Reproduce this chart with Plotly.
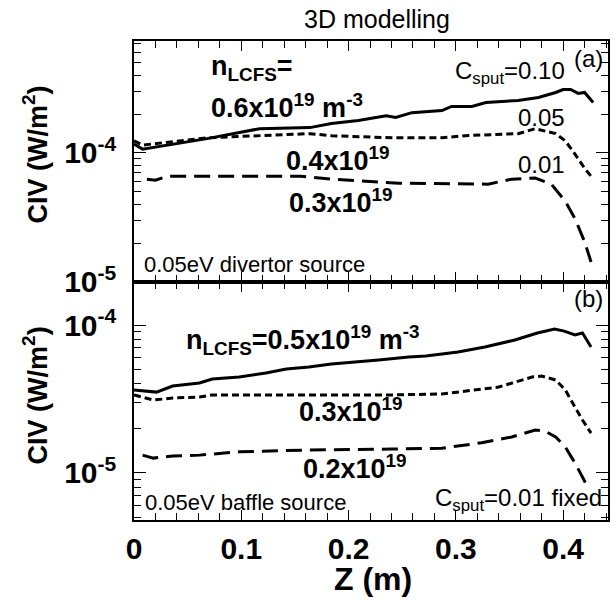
import plotly.graph_objects as go

# ---------------- data ----------------
# (a) 0.05eV divertor source
za_010 = [0.000, 0.008, 0.068, 0.117, 0.164, 0.184, 0.209, 0.235, 0.244, 0.259, 0.287, 0.296,
          0.315, 0.328, 0.358, 0.377, 0.393, 0.400, 0.407, 0.414, 0.420, 0.428]
civ_a_010 = [1.17e-4, 1.07e-4, 1.29e-4, 1.54e-4, 1.57e-4, 1.69e-4, 1.78e-4, 1.94e-4, 1.88e-4, 2.05e-4,
             2.13e-4, 2.29e-4, 2.29e-4, 2.46e-4, 2.55e-4, 2.69e-4, 2.94e-4, 3.10e-4, 3.10e-4, 2.89e-4,
             2.94e-4, 2.46e-4]

za_005 = [0.000, 0.008, 0.068, 0.164, 0.184, 0.240, 0.287, 0.309, 0.358, 0.374, 0.393, 0.402,
          0.411, 0.420, 0.428]
civ_a_005 = [1.24e-4, 1.15e-4, 1.31e-4, 1.41e-4, 1.36e-4, 1.31e-4, 1.31e-4, 1.36e-4, 1.41e-4, 1.54e-4,
             1.41e-4, 1.24e-4, 0.98e-4, 7.6e-5, 6.3e-5]

za_001 = [0.012, 0.020, 0.031, 0.155, 0.184, 0.247, 0.330, 0.352, 0.374, 0.389, 0.402, 0.411,
          0.420, 0.426]
civ_a_001 = [6.26e-5, 6.15e-5, 6.6e-5, 6.6e-5, 6.26e-5, 5.83e-5, 5.73e-5, 6.26e-5, 6.38e-5, 5.73e-5,
             4.22e-5, 3.1e-5, 2.05e-5, 1.43e-5]

# (b) 0.05eV baffle source, C_sput = 0.01 fixed
zb_05 = [0.000, 0.021, 0.036, 0.061, 0.073, 0.098, 0.123, 0.142, 0.163, 0.184, 0.228, 0.256, 0.272,
         0.302, 0.327, 0.355, 0.376, 0.392, 0.401, 0.411, 0.418, 0.426]
civ_b_05 = [3.64e-5, 3.52e-5, 3.87e-5, 4.06e-5, 4.32e-5, 4.45e-5, 4.74e-5, 5.04e-5, 5.2e-5, 5.45e-5,
            5.8e-5, 6.08e-5, 6.17e-5, 6.57e-5, 7.1e-5, 7.92e-5, 8.83e-5, 9.4e-5, 9.1e-5, 8.56e-5,
            8.83e-5, 7.1e-5]

zb_03 = [0.000, 0.018, 0.036, 0.061, 0.073, 0.240, 0.287, 0.315, 0.340, 0.371, 0.380, 0.393, 0.402,
         0.411, 0.418, 0.426]
civ_b_03 = [3.37e-5, 3.11e-5, 3.21e-5, 3.26e-5, 3.37e-5, 3.37e-5, 3.42e-5, 3.64e-5, 3.81e-5, 4.45e-5,
            4.52e-5, 4.25e-5, 3.64e-5, 2.79e-5, 2.28e-5, 1.86e-5]

zb_02 = [0.008, 0.018, 0.036, 0.061, 0.098, 0.123, 0.163, 0.240, 0.287, 0.324, 0.352, 0.374, 0.383,
         0.393, 0.402, 0.411, 0.418, 0.423]
civ_b_02 = [1.32e-5, 1.26e-5, 1.30e-5, 1.32e-5, 1.39e-5, 1.41e-5, 1.43e-5, 1.45e-5, 1.47e-5, 1.6e-5,
            1.75e-5, 1.95e-5, 1.92e-5, 1.75e-5, 1.5e-5, 1.17e-5, 9.4e-6, 8.0e-6]

x_major_ticks = [0, 0.1, 0.2, 0.3, 0.4]
x_major_labels = ["0", "0.1", "0.2", "0.3", "0.4"]
y_major_ticks = [1e-5, 1e-4]
y_major_labels = ["10<sup>-5</sup>", "10<sup>-4</sup>"]

# ---------------- figure ----------------
FONT = "Liberation Sans, Arial, sans-serif"
fig = go.Figure()

solid = dict(color="black", width=3)
dotted = dict(color="black", width=3, dash="7px,4px")
dashed = dict(color="black", width=3, dash="16px,8px")

fig.add_trace(go.Scatter(x=za_010, y=civ_a_010, mode="lines", line=solid, xaxis="x2", yaxis="y2"))
fig.add_trace(go.Scatter(x=za_005, y=civ_a_005, mode="lines", line=dotted, xaxis="x2", yaxis="y2"))
fig.add_trace(go.Scatter(x=za_001, y=civ_a_001, mode="lines", line=dashed, xaxis="x2", yaxis="y2"))
fig.add_trace(go.Scatter(x=zb_05, y=civ_b_05, mode="lines", line=solid, xaxis="x", yaxis="y"))
fig.add_trace(go.Scatter(x=zb_03, y=civ_b_03, mode="lines", line=dotted, xaxis="x", yaxis="y"))
fig.add_trace(go.Scatter(x=zb_02, y=civ_b_02, mode="lines", line=dashed, xaxis="x", yaxis="y"))

def minor_logvals(lo, hi):
    vals = []
    for e in range(lo, hi + 1):
        for m in range(2, 10):
            vals.append(m * 10.0 ** e)
    return vals

axis_common = dict(showline=True, linecolor="black", linewidth=1.5, mirror="ticks",
                   ticks="inside", tickcolor="black", tickwidth=1.2, showgrid=False, zeroline=False)

xr = [0, 0.4418]
fig.update_layout(
    width=616, height=601,
    margin=dict(l=134, r=6, t=41, b=81),
    paper_bgcolor="white", plot_bgcolor="white",
    showlegend=False,
    font=dict(family=FONT, color="black"),
    xaxis=dict(**axis_common, range=xr, anchor="y", tickvals=x_major_ticks, ticktext=x_major_labels,
               ticklen=10, tickfont=dict(size=30, family=FONT, weight="bold"), ticklabelstandoff=1,
               minor=dict(dtick=0.02, tick0=0, ticks="inside", ticklen=7, tickcolor="black", tickwidth=1.2)),
    xaxis2=dict(**axis_common, range=xr, anchor="y2", matches="x", tickvals=x_major_ticks,
                showticklabels=False, ticklen=10,
                minor=dict(dtick=0.02, tick0=0, ticks="inside", ticklen=7, tickcolor="black", tickwidth=1.2)),
    yaxis=dict(**axis_common, type="log", domain=[0, 0.4969], range=[-5.318, -3.709], anchor="x",
               tickvals=y_major_ticks, ticktext=y_major_labels, ticklen=12,
               tickfont=dict(size=30, family=FONT, weight="bold"), ticklabelstandoff=10,
               minor=dict(tickvals=minor_logvals(-6, -4), ticks="inside", ticklen=7,
                          tickcolor="black", tickwidth=1.2)),
    yaxis2=dict(**axis_common, type="log", domain=[0.4969, 1], range=[-5.0, -3.133], anchor="x2",
                tickvals=y_major_ticks, ticktext=y_major_labels, ticklen=12,
                tickfont=dict(size=30, family=FONT, weight="bold"), ticklabelstandoff=10,
                minor=dict(tickvals=minor_logvals(-6, -4), ticks="inside", ticklen=7,
                           tickcolor="black", tickwidth=1.2)),
)

def ann(text, x, y, xref, yref, size, bold=False, xanchor="left", yanchor="middle", **kw):
    fig.add_annotation(text=text, x=x, y=y, xref=xref, yref=yref, showarrow=False,
                       xanchor=xanchor, yanchor=yanchor,
                       font=dict(size=size, family=FONT, color="black",
                                 weight="bold" if bold else "normal"), **kw)

# title and axis titles
ann("3D modelling", 0.513, 1.046, "paper", "paper", 25, xanchor="center")
ann("CIV (W/m<sup>2</sup>)", -0.208, 0.764, "paper", "paper", 27, bold=True, xanchor="center", textangle=-90)
ann("CIV (W/m<sup>2</sup>)", -0.208, 0.261, "paper", "paper", 27, bold=True, xanchor="center", textangle=-90)
ann("Z (m)", 0.504, -0.124, "paper", "paper", 32, bold=True, xanchor="center")

# panel (a)
ann("n<sub>LCFS</sub>=", 0.0696, -3.344, "x2", "y2", 27, bold=True)
ann("0.6x10<sup>19</sup> m<sup>-3</sup>", 0.0696, -3.633, "x2", "y2", 27, bold=True)
ann("C<sub>sput</sub>=0.10", 0.404, -3.375, "x2", "y2", 24, xanchor="right")
ann("(a)", 0.439, -3.266, "x2", "y2", 24, xanchor="right")
ann("0.05", 0.404, -3.727, "x2", "y2", 24, xanchor="right")
ann("0.4x10<sup>19</sup>", 0.140, -4.047, "x2", "y2", 27, bold=True)
ann("0.01", 0.404, -4.086, "x2", "y2", 24, xanchor="right")
ann("0.3x10<sup>19</sup>", 0.143, -4.375, "x2", "y2", 27, bold=True)
ann("0.05eV divertor source", 0.0074, -4.867, "x2", "y2", 22)

# panel (b)
ann("(b)", 0.439, -3.818, "x", "y", 24, xanchor="right")
ann("n<sub>LCFS</sub>=0.5x10<sup>19</sup> m<sup>-3</sup>", 0.047, -4.101, "x", "y", 27, bold=True)
ann("0.3x10<sup>19</sup>", 0.152, -4.574, "x", "y", 27, bold=True)
ann("0.2x10<sup>19</sup>", 0.156, -4.959, "x", "y", 27, bold=True)
ann("0.05eV baffle source", 0.0084, -5.203, "x", "y", 22)
ann("C<sub>sput</sub>=0.01 fixed", 0.438, -5.182, "x", "y", 24, xanchor="right")

fig.write_html("out.html")
